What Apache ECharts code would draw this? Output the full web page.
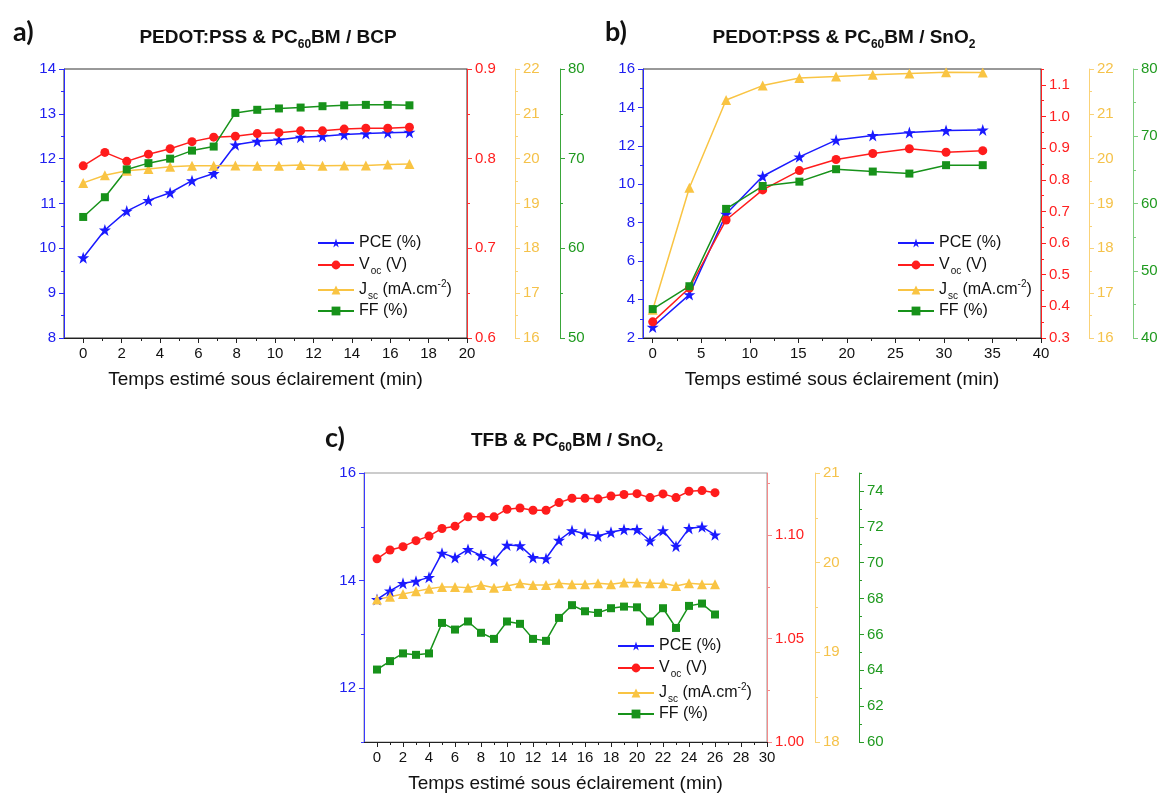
<!DOCTYPE html>
<html><head><meta charset="utf-8">
<script src="https://cdn.jsdelivr.net/npm/echarts@6/dist/echarts.min.js"></script>
<style>html,body{margin:0;padding:0;background:#fff}#c{width:1167px;height:794px}</style>
</head><body><div id="c"></div><script>
// ---------- data ----------
const aTime = [0, 1.13, 2.27, 3.4, 4.53, 5.67, 6.8, 7.93, 9.07, 10.2, 11.33, 12.47, 13.6, 14.73, 15.87, 17.0];
const aPCE = [9.79, 10.41, 10.83, 11.07, 11.24, 11.51, 11.67, 12.31, 12.39, 12.42, 12.48, 12.50, 12.54, 12.56, 12.58, 12.59];
const aVoc = [0.792, 0.807, 0.797, 0.805, 0.811, 0.819, 0.824, 0.825, 0.828, 0.829, 0.831, 0.831, 0.833, 0.834, 0.834, 0.835];
const aJsc = [19.46, 19.63, 19.73, 19.77, 19.82, 19.84, 19.84, 19.85, 19.84, 19.84, 19.86, 19.84, 19.85, 19.85, 19.87, 19.88];
const aFF = [63.5, 65.7, 68.8, 69.5, 70.0, 70.9, 71.35, 75.1, 75.45, 75.6, 75.7, 75.85, 75.95, 76.0, 76.0, 75.95];

const bTime = [0, 3.78, 7.56, 11.33, 15.11, 18.89, 22.67, 26.44, 30.22, 34.0];
const bPCE = [2.57, 4.26, 8.45, 10.42, 11.43, 12.30, 12.54, 12.69, 12.80, 12.83];
const bVoc = [0.351, 0.458, 0.673, 0.768, 0.829, 0.864, 0.883, 0.898, 0.887, 0.892];
const bJsc = [16.63, 19.35, 21.31, 21.63, 21.80, 21.83, 21.87, 21.90, 21.93, 21.92];
const bFF = [44.3, 47.7, 59.2, 62.6, 63.25, 65.1, 64.75, 64.45, 65.7, 65.7];

const cTime = [0, 1, 2, 3, 4, 5, 6, 7, 8, 9, 10, 11, 12, 13, 14, 15, 16, 17, 18, 19, 20, 21, 22, 23, 24, 25, 26];
const cPCE = [13.65, 13.81, 13.95, 13.99, 14.06, 14.51, 14.43, 14.58, 14.47, 14.37, 14.66, 14.65, 14.43, 14.41, 14.75, 14.93, 14.87, 14.83, 14.90, 14.95, 14.95, 14.74, 14.93, 14.64, 14.97, 15.00, 14.85];
const cVoc = [1.0885, 1.0928, 1.0944, 1.0973, 1.0995, 1.1032, 1.1043, 1.1088, 1.1088, 1.1088, 1.1125, 1.1131, 1.112, 1.112, 1.1157, 1.1178, 1.1178, 1.1175, 1.1189, 1.1196, 1.12, 1.1181, 1.1199, 1.1181, 1.1212, 1.1215, 1.1205];
const cJsc = [19.59, 19.62, 19.65, 19.68, 19.71, 19.73, 19.73, 19.72, 19.75, 19.72, 19.74, 19.77, 19.75, 19.75, 19.77, 19.76, 19.76, 19.77, 19.76, 19.78, 19.78, 19.77, 19.77, 19.74, 19.77, 19.76, 19.76];
const cFF = [64.04, 64.51, 64.94, 64.86, 64.94, 66.64, 66.27, 66.72, 66.09, 65.75, 66.72, 66.59, 65.75, 65.64, 66.92, 67.63, 67.29, 67.20, 67.46, 67.55, 67.51, 66.72, 67.46, 66.36, 67.59, 67.72, 67.11];

// ---------- tick labels ----------
const aXMajor = [0, 2, 4, 6, 8, 10, 12, 14, 16, 18, 20];
const aXMinor = [1, 3, 5, 7, 9, 11, 13, 15, 17, 19];
const aPceMajor = [8, 9, 10, 11, 12, 13, 14];
const aPceMinor = [8.5, 9.5, 10.5, 11.5, 12.5, 13.5];
const aVocMajor = [0.6, 0.7, 0.8, 0.9];
const aVocMinor = [0.65, 0.75, 0.85];
const aJscMajor = [16, 17, 18, 19, 20, 21, 22];
const aJscMinor = [16.5, 17.5, 18.5, 19.5, 20.5, 21.5];
const aFFMajor = [50, 60, 70, 80];
const aFFMinor = [55, 65, 75];

const bXMajor = [0, 5, 10, 15, 20, 25, 30, 35, 40];
const bXMinor = [2.5, 7.5, 12.5, 17.5, 22.5, 27.5, 32.5, 37.5];
const bPceMajor = [2, 4, 6, 8, 10, 12, 14, 16];
const bPceMinor = [3, 5, 7, 9, 11, 13, 15];
const bVocMajor = [0.3, 0.4, 0.5, 0.6, 0.7, 0.8, 0.9, 1.0, 1.1];
const bVocMinor = [0.35, 0.45, 0.55, 0.65, 0.75, 0.85, 0.95, 1.05, 1.15];
const bJscMajor = [16, 17, 18, 19, 20, 21, 22];
const bJscMinor = [16.5, 17.5, 18.5, 19.5, 20.5, 21.5];
const bFFMajor = [40, 50, 60, 70, 80];
const bFFMinor = [45, 55, 65, 75];

const cXMajor = [0, 2, 4, 6, 8, 10, 12, 14, 16, 18, 20, 22, 24, 26, 28, 30];
const cXMinor = [1, 3, 5, 7, 9, 11, 13, 15, 17, 19, 21, 23, 25, 27, 29];
const cPceMajor = [12, 14, 16];
const cPceMinor = [11, 13, 15];
const cVocMajor = [1.00, 1.05, 1.10];
const cVocMinor = [1.025, 1.075, 1.125];
const cJscMajor = [18, 19, 20, 21];
const cJscMinor = [18.5, 19.5, 20.5];
const cFFMajor = [60, 62, 64, 66, 68, 70, 72, 74];
const cFFMinor = [61, 63, 65, 67, 69, 71, 73, 75];

// ---------- styling ----------
const FONT = '"Liberation Sans", Arial, sans-serif';
const BLUE = '#1a1aff', RED = '#ff1c1c', YEL = '#f9c443', GRN = '#17921a';
const STAR = 'path://M50,0 L61.8,35.1 L98.1,35.1 L68.8,56.7 L79.4,91.3 L50,70 L20.6,91.3 L31.2,56.7 L1.9,35.1 L38.2,35.1 Z';

const xAxis = [], yAxis = [], series = [];

function addX(g, min, max, major, minor) {
  const idx = xAxis.length;
  xAxis.push({
    type: 'value', gridIndex: g, position: 'bottom', min: min, max: max,
    name: 'Temps estimé sous éclairement (min)', nameLocation: 'middle', nameGap: 32,
    nameTextStyle: { fontSize: 19, color: '#111', fontFamily: FONT },
    axisLine: { show: true, onZero: false, lineStyle: { color: '#222', width: 1 } },
    axisTick: { show: true, length: 5, customValues: major, lineStyle: { color: '#222' } },
    axisLabel: { show: true, customValues: major, fontSize: 15, color: '#111', fontFamily: FONT, margin: 8 },
    splitLine: { show: false }
  });
  xAxis.push({
    type: 'value', gridIndex: g, position: 'bottom', min: min, max: max,
    axisLine: { show: false, onZero: false },
    axisTick: { show: true, length: 3, customValues: minor, lineStyle: { color: '#222' } },
    axisLabel: { show: false },
    splitLine: { show: false }
  });
  return idx;
}

function addY(g, pos, offset, min, max, major, minor, lineColor, labelColor, fmt) {
  const idx = yAxis.length;
  yAxis.push({
    type: 'value', gridIndex: g, position: pos, offset: offset, min: min, max: max,
    axisLine: { show: true, onZero: false, lineStyle: { color: lineColor, width: 1 } },
    axisTick: { show: true, length: 5, customValues: major, lineStyle: { color: lineColor } },
    axisLabel: { show: true, customValues: major, fontSize: 15, color: labelColor, fontFamily: FONT, margin: 8,
      formatter: fmt },
    splitLine: { show: false }
  });
  yAxis.push({
    type: 'value', gridIndex: g, position: pos, offset: offset, min: min, max: max,
    axisLine: { show: false, onZero: false },
    axisTick: { show: true, length: 3, customValues: minor, lineStyle: { color: lineColor } },
    axisLabel: { show: false },
    splitLine: { show: false }
  });
  return idx;
}

function addS(name, xi, yi, xs, ys, symbol, size, color) {
  series.push({
    name: name, type: 'line', xAxisIndex: xi, yAxisIndex: yi,
    data: xs.map((x, i) => [x, ys[i]]),
    symbol: symbol, symbolSize: size, showSymbol: true,
    lineStyle: { color: color, width: 1.5 },
    itemStyle: { color: color },
    animation: false
  });
}

const f0 = v => String(v);
const f1 = v => v.toFixed(1);
const f2 = v => v.toFixed(2);

// Panel a
const ax = addX(0, -1, 20, aXMajor, aXMinor);
const ay1 = addY(0, 'left', 0, 8, 14, aPceMajor, aPceMinor, '#2a2aff', '#2020f0', f0);
const ay2 = addY(0, 'right', 0, 0.6, 0.9, aVocMajor, aVocMinor, '#ff3030', '#ff2020', f1);
const ay3 = addY(0, 'right', 48, 16, 22, aJscMajor, aJscMinor, '#fad277', '#f5c24a', f0);
const ay4 = addY(0, 'right', 93, 50, 80, aFFMajor, aFFMinor, '#3aa63a', '#1f9a1f', f0);
addS('aPCE', ax, ay1, aTime, aPCE, STAR, 12, BLUE);
addS('aVOC', ax, ay2, aTime, aVoc, 'circle', 9, RED);
addS('aJSC', ax, ay3, aTime, aJsc, 'triangle', 10, YEL);
addS('aFF', ax, ay4, aTime, aFF, 'rect', 8, GRN);

// Panel b
const bx = addX(1, -1, 40, bXMajor, bXMinor);
const by1 = addY(1, 'left', 0, 2, 16, bPceMajor, bPceMinor, '#2a2aff', '#2020f0', f0);
const by2 = addY(1, 'right', 0, 0.3, 1.15, bVocMajor, bVocMinor, '#ff2020', '#ff2020', f1);
const by3 = addY(1, 'right', 48, 16, 22, bJscMajor, bJscMinor, '#fad277', '#f5c24a', f0);
const by4 = addY(1, 'right', 92, 40, 80, bFFMajor, bFFMinor, '#7dcc7d', '#1f9a1f', f0);
addS('bPCE', bx, by1, bTime, bPCE, STAR, 12, BLUE);
addS('bVOC', bx, by2, bTime, bVoc, 'circle', 9, RED);
addS('bJSC', bx, by3, bTime, bJsc, 'triangle', 10, YEL);
addS('bFF', bx, by4, bTime, bFF, 'rect', 8, GRN);

// Panel c
const cx = addX(2, -1, 30, cXMajor, cXMinor);
const cy1 = addY(2, 'left', 0, 11, 16, cPceMajor, cPceMinor, '#3a3aff', '#2020f0', f0);
const cy2 = addY(2, 'right', 0, 1.0, 1.13, cVocMajor, cVocMinor, '#f58a8a', '#ff2020', f2);
const cy3 = addY(2, 'right', 48, 18, 21, cJscMajor, cJscMinor, '#fad277', '#f5c24a', f0);
const cy4 = addY(2, 'right', 92, 60, 75, cFFMajor, cFFMinor, '#2a9a2a', '#1f9a1f', f0);
addS('cPCE', cx, cy1, cTime, cPCE, STAR, 12, BLUE);
addS('cVOC', cx, cy2, cTime, cVoc, 'circle', 9, RED);
addS('cJSC', cx, cy3, cTime, cJsc, 'triangle', 10, YEL);
addS('cFF', cx, cy4, cTime, cFF, 'rect', 8, GRN);

const LEG = {
  PCE: '{n|PCE (%)}',
  VOC: '{n|V}{s|oc}{n| (V)}',
  JSC: '{n|J}{s|sc}{n| (mA.cm}{p|-2}{n|)}',
  FF: '{n|FF (%)}'
};
const legRich = {
  n: { fontSize: 16, lineHeight: 22, verticalAlign: 'middle', color: '#111', fontFamily: FONT },
  s: { fontSize: 10, lineHeight: 10, verticalAlign: 'bottom', padding: [13, 0, 0, 1], color: '#111', fontFamily: FONT },
  p: { fontSize: 10, lineHeight: 10, verticalAlign: 'top', padding: [0, 0, 12, 0], color: '#111', fontFamily: FONT }
};
function legend(p, left, top) {
  return {
    orient: 'vertical', left: left, top: top, itemWidth: 36, itemHeight: 11, itemGap: 2,
    data: [p + 'PCE', p + 'VOC', p + 'JSC', p + 'FF'],
    formatter: name => LEG[name.slice(1)],
    textStyle: { fontSize: 16, color: '#111', fontFamily: FONT, rich: legRich },
    selectedMode: false
  };
}

const titleRich = {
  t: { fontSize: 19, fontWeight: 'bold', color: '#111', fontFamily: FONT, lineHeight: 26, verticalAlign: 'middle' },
  s: { fontSize: 12, fontWeight: 'bold', color: '#111', fontFamily: FONT, lineHeight: 12, verticalAlign: 'bottom', padding: [14, 0, 0, 0] }
};
function ttl(text, left, top) {
  return { text: text, left: left, top: top, textAlign: 'center', textStyle: { rich: titleRich, fontSize: 19 } };
}
function lbl(text, left, top) {
  return { text: text, left: left, top: top, textStyle: { fontSize: 27, fontWeight: 'bold', color: '#111', fontFamily: 'Lato, "Open Sans", sans-serif' } };
}

const option = {
  backgroundColor: '#fff',
  animation: false,
  title: [
    lbl('a)', 8, 14),
    ttl('{t|PEDOT:PSS & PC}{s|60}{t|BM / BCP}', 263, 20),
    lbl('b)', 600, 14),
    ttl('{t|PEDOT:PSS & PC}{s|60}{t|BM / SnO}{s|2}', 839, 20),
    lbl('c)', 320, 420),
    ttl('{t|TFB & PC}{s|60}{t|BM / SnO}{s|2}', 562, 423)
  ],
  grid: [
    { left: 64, top: 69, width: 403, height: 269, show: true, borderColor: '#333', borderWidth: 1 },
    { left: 643, top: 69, width: 398, height: 269, show: true, borderColor: '#333', borderWidth: 1 },
    { left: 364, top: 473, width: 403, height: 270, show: true, borderColor: '#999', borderWidth: 1 }
  ],
  legend: [legend('a', 312, 230), legend('b', 892, 230), legend('c', 612, 633)],
  xAxis: xAxis,
  yAxis: yAxis,
  series: series
};

const chart = echarts.init(document.getElementById('c'), null, { renderer: 'canvas' });
chart.setOption(option);
</script></body></html>
